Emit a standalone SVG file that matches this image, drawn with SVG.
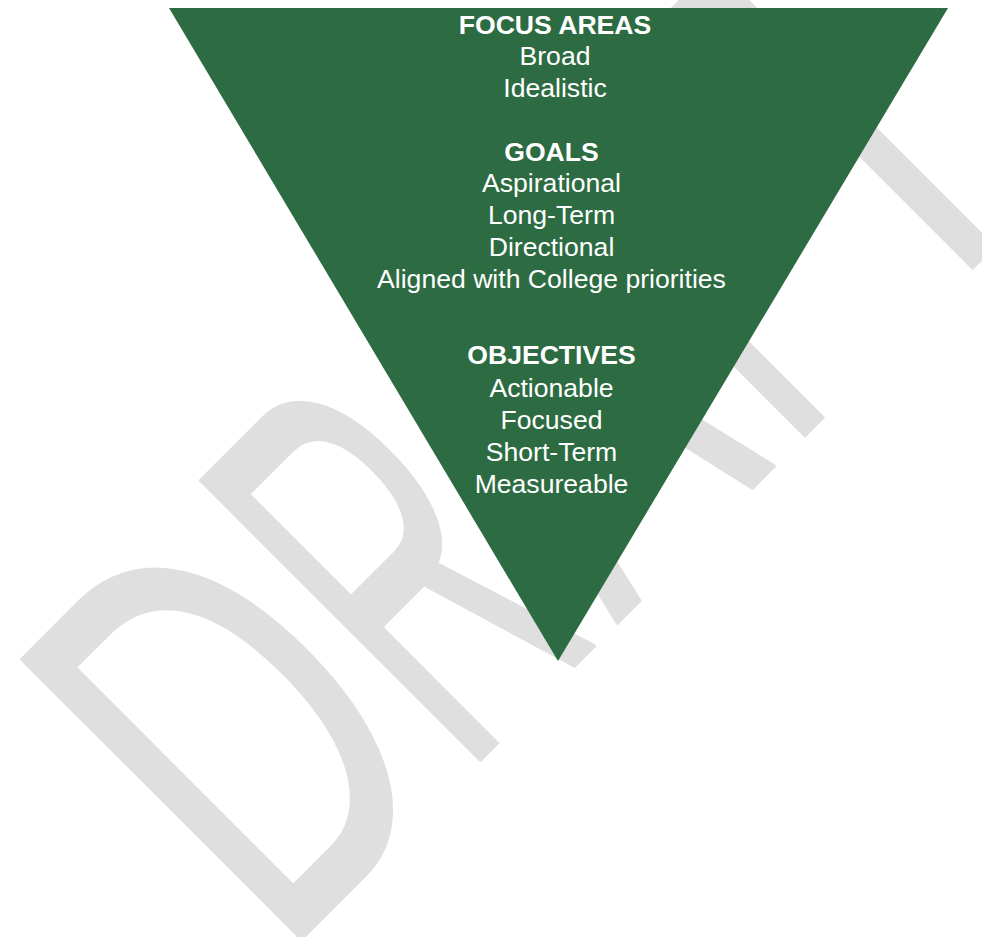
<svg xmlns="http://www.w3.org/2000/svg" width="982" height="937" viewBox="0 0 982 937">
  <style>
    .wm { font-family: "Liberation Sans", Arial, sans-serif; font-size: 574px; fill: #dfdfdf; stroke: #dfdfdf; stroke-width: 4; stroke-linejoin: round; }
    .lbl { font-family: "Liberation Sans", Arial, sans-serif; font-size: 26.6px; fill: #ffffff; text-anchor: middle; }
    .hd { font-weight: bold; }
  </style>
  <rect x="0" y="0" width="982" height="937" fill="#ffffff"/>

  <!-- diagonal DRAFT watermark: baseline runs up-right at 45 degrees,
       each letter placed and condensed on its own -->
  <g id="watermark" transform="translate(620 620) rotate(-45)">
    <text class="wm" transform="translate(-480 0) scale(0.612 1)" x="0" y="0">D</text>
    <text class="wm" transform="translate(-221 0) scale(0.477 1)" x="0" y="0">R</text>
    <text class="wm" transform="translate(-5 0) scale(0.585 1)" x="0" y="0">A</text>
    <text class="wm" transform="translate(237 0) scale(0.5 1)" x="0" y="0">F</text>
    <text class="wm" transform="translate(412 0) scale(0.578 1)" x="0" y="0">T</text>
  </g>

  <!-- inverted funnel -->
  <g id="funnel">
    <polygon points="169,8 948,8 558,661" fill="#2d6b42"/>
  </g>

  <g id="focus-areas">
    <text class="lbl hd" x="555" y="33.5">FOCUS AREAS</text>
    <text class="lbl" x="555" y="65.3">Broad</text>
    <text class="lbl" x="555" y="97.1">Idealistic</text>
  </g>

  <g id="goals">
    <text class="lbl hd" x="551.5" y="160.5">GOALS</text>
    <text class="lbl" x="551.5" y="192.3">Aspirational</text>
    <text class="lbl" x="551.5" y="224.1">Long-Term</text>
    <text class="lbl" x="551.5" y="255.9">Directional</text>
    <text class="lbl" x="551.5" y="287.7">Aligned with College priorities</text>
  </g>

  <g id="objectives">
    <text class="lbl hd" x="551.5" y="364.3">OBJECTIVES</text>
    <text class="lbl" x="551.5" y="396.6">Actionable</text>
    <text class="lbl" x="551.5" y="428.8">Focused</text>
    <text class="lbl" x="551.5" y="461">Short-Term</text>
    <text class="lbl" x="551.5" y="493.3">Measureable</text>
  </g>
</svg>
